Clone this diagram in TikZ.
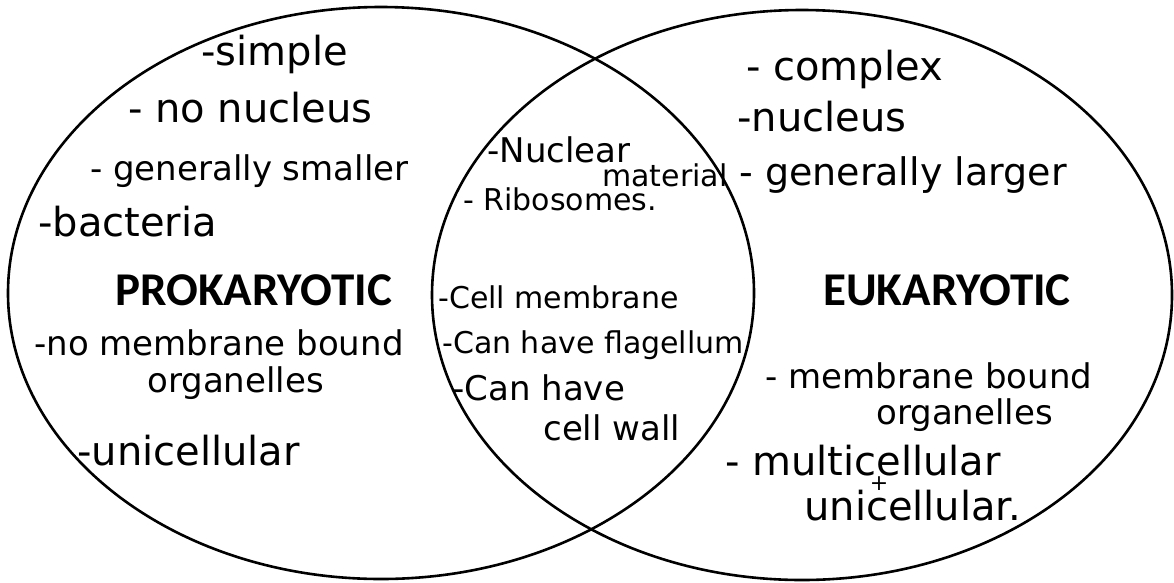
\documentclass[tikz,border=0pt]{standalone}
\usepackage{fontspec}
\setmainfont{Carlito}
\newfontfamily\hand{DejaVu Sans}
\usetikzlibrary{positioning}

\begin{document}
\begin{tikzpicture}[x=1pt,y=-1pt,semithick]
\tikzstyle{every node}=[inner sep=0pt,anchor=base west,text=black]
\tikzstyle{set}=[draw=black,line width=2.6pt]
\tikzstyle{bignote}=[font=\fontsize{40}{44}\hand]
\tikzstyle{note}=[font=\fontsize{34}{38}\hand]
\tikzstyle{smallnote}=[font=\fontsize{30}{34}\hand]
\tikzstyle{title}=[font=\fontsize{47}{50}\selectfont\bfseries]
\useasboundingbox (0,0) rectangle (1174,582);
\draw[set] (381,293) ellipse [x radius=373pt, y radius=286pt];
\draw[set] (802,295) ellipse [x radius=370pt, y radius=285pt];
% prokaryotic side
\node[title] (pro) at (115,305) {PROKARYOTIC};
\node[bignote] (p1) at (201,65) {-simple};
\node[bignote] (p2) at (128,122) {- no nucleus};
\node[note] (p3) at (90,180) {- generally smaller};
\node[bignote] (p4) at (38,236) {-bacteria};
\node[note] (p5) at (34,355) {-no membrane bound};
\node[note] (p6) at (147,392) {organelles};
\node[bignote] (p7) at (77,465) {-unicellular};
% both
\node[note] (b1) at (487,162) {-Nuclear};
\node[smallnote] (b2) at (602,186) {material};
\node[smallnote] (b3) at (463,210) {- Ribosomes.};
\node[smallnote] (b4) at (438,308) {-Cell membrane};
\node[smallnote] (b5) at (442,353) {-Can have flagellum};
\node[note] (b6) at (452,400) {-Can have};
\node[note] (b7) at (543,440) {cell wall};
% eukaryotic side
\node[title] (eu) at (823,305) {EUKARYOTIC};
\node[bignote] (e1) at (746,80) {- complex};
\node[bignote] (e2) at (737,131) {-nucleus};
\node[bignote,font=\fontsize{38}{42}\hand] (e3) at (739,185) {- generally larger};
\node[note] (e4) at (765,388) {- membrane bound};
\node[note] (e5) at (876,424) {organelles};
\node[bignote] (e6) at (725,475) {- multicellular};
\node[bignote] (e7) at (804,520) {uni\rlap{\smash{\raisebox{30pt}{\fontsize{22}{22}\hand\,+}}}cellular.};
\end{tikzpicture}
\end{document}
